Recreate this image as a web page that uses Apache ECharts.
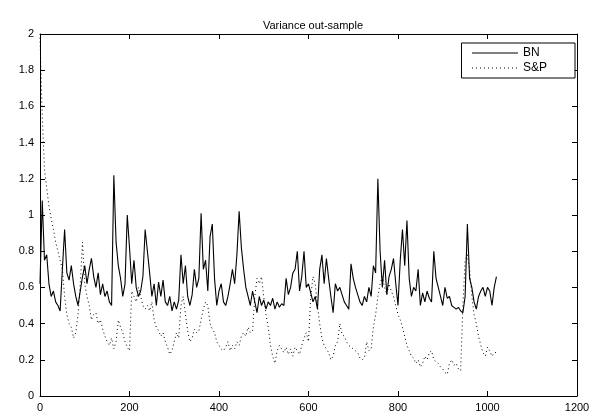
<!DOCTYPE html>
<html>
<head>
<meta charset="utf-8">
<script src="https://cdn.jsdelivr.net/npm/echarts@6/dist/echarts.min.js"></script>
<style>
html,body{margin:0;padding:0;background:#fff;}
#chart{width:594px;height:418px;}
</style>
</head>
<body>
<div id="chart"></div>
<script>
// Sample index step of the readings (values every 5 observations)
var sampleStep = 5;

var bnValues = [
0.62,1.08,0.75,0.78,0.62,0.55,0.58,0.52,0.50,0.47,
0.70,0.92,0.68,0.64,0.72,0.62,0.55,0.50,0.58,0.66,
0.72,0.62,0.70,0.76,0.66,0.60,0.68,0.56,0.62,0.55,
0.58,0.52,0.50,1.22,0.85,0.72,0.65,0.55,0.62,1.00,
0.82,0.62,0.75,0.60,0.55,0.58,0.66,0.92,0.80,0.68,
0.55,0.62,0.50,0.63,0.55,0.64,0.52,0.50,0.55,0.47,
0.52,0.48,0.53,0.78,0.62,0.72,0.55,0.50,0.56,0.70,
0.60,0.65,1.01,0.70,0.75,0.58,0.88,0.95,0.65,0.50,
0.58,0.62,0.52,0.50,0.55,0.62,0.70,0.62,0.78,1.02,
0.82,0.70,0.60,0.55,0.50,0.58,0.52,0.46,0.55,0.50,
0.53,0.48,0.52,0.50,0.54,0.48,0.52,0.49,0.51,0.50,
0.65,0.56,0.60,0.68,0.70,0.80,0.58,0.66,0.80,0.60,
0.62,0.57,0.52,0.55,0.48,0.70,0.78,0.62,0.76,0.65,
0.55,0.46,0.62,0.58,0.60,0.56,0.52,0.50,0.48,0.73,
0.65,0.60,0.56,0.52,0.50,0.55,0.52,0.60,0.55,0.72,
0.68,1.20,0.80,0.60,0.75,0.56,0.66,0.70,0.76,0.62,
0.50,0.75,0.92,0.72,0.97,0.65,0.55,0.60,0.58,0.70,
0.50,0.57,0.52,0.58,0.54,0.52,0.80,0.65,0.60,0.55,
0.50,0.60,0.54,0.55,0.50,0.49,0.48,0.49,0.47,0.46,
0.55,0.95,0.65,0.60,0.52,0.48,0.55,0.58,0.60,0.55,
0.60,0.58,0.50,0.60,0.66
];

var spValues = [
1.98,1.55,1.25,1.15,1.05,0.98,0.92,0.85,0.80,0.75,
0.70,0.55,0.45,0.40,0.38,0.32,0.35,0.45,0.62,0.85,
0.62,0.55,0.50,0.42,0.45,0.46,0.40,0.42,0.37,0.33,
0.30,0.28,0.32,0.26,0.30,0.42,0.38,0.35,0.30,0.27,
0.25,0.58,0.55,0.52,0.60,0.55,0.50,0.48,0.50,0.47,
0.52,0.42,0.38,0.36,0.33,0.35,0.30,0.27,0.23,0.25,
0.30,0.35,0.32,0.50,0.55,0.45,0.36,0.30,0.32,0.37,
0.35,0.36,0.42,0.48,0.52,0.50,0.40,0.37,0.35,0.30,
0.28,0.26,0.25,0.27,0.30,0.25,0.28,0.26,0.30,0.28,
0.33,0.35,0.33,0.38,0.35,0.36,0.55,0.65,0.62,0.66,
0.55,0.45,0.38,0.28,0.22,0.18,0.25,0.28,0.26,0.24,
0.27,0.23,0.26,0.22,0.27,0.25,0.23,0.28,0.32,0.35,
0.30,0.55,0.66,0.62,0.50,0.40,0.32,0.28,0.26,0.24,
0.20,0.22,0.28,0.30,0.40,0.34,0.33,0.30,0.28,0.27,
0.26,0.25,0.24,0.21,0.20,0.21,0.30,0.25,0.26,0.38,
0.45,0.55,0.62,0.66,0.60,0.56,0.62,0.58,0.55,0.50,
0.45,0.42,0.38,0.33,0.28,0.25,0.22,0.21,0.18,0.20,
0.16,0.18,0.22,0.20,0.24,0.25,0.20,0.19,0.18,0.16,
0.15,0.13,0.12,0.18,0.20,0.17,0.18,0.15,0.14,0.50,
0.75,0.78,0.70,0.55,0.45,0.40,0.33,0.28,0.24,0.22,
0.27,0.25,0.22,0.24,0.24
];

var seriesNames = ['BN', 'S&P'];
var titleText = 'Variance out-sample';
var xTicks = [0, 200, 400, 600, 800, 1000, 1200];
var yTicks = [0, 0.2, 0.4, 0.6, 0.8, 1, 1.2, 1.4, 1.6, 1.8, 2];

function pairs(vals) {
  return vals.map(function (v, i) { return [i * sampleStep, v]; });
}

var FONT = '"Liberation Sans", Arial, Helvetica, sans-serif';

function axisCommon(pos, isX, showLabel) {
  var ticks = isX ? xTicks : yTicks;
  return {
    type: 'value',
    position: pos,
    min: ticks[0],
    max: ticks[ticks.length - 1],
    interval: ticks[1] - ticks[0],
    axisLine: { show: true, onZero: false, lineStyle: { color: '#000', width: 1 } },
    axisTick: { show: true, inside: true, length: 5, lineStyle: { color: '#000', width: 1 } },
    axisLabel: {
      show: showLabel, color: '#000', fontSize: 11, fontFamily: FONT, margin: 6,
      formatter: function (v) { return String(Math.round(v * 100) / 100); }
    },
    splitLine: { show: false }
  };
}

var chart = echarts.init(document.getElementById('chart'), null, { renderer: 'canvas' });
chart.setOption({
  animation: false,
  backgroundColor: '#fff',
  title: {
    text: titleText,
    left: 308,
    top: 15,
    textAlign: 'center',
    textStyle: { color: '#000', fontSize: 11, fontWeight: 'normal', fontFamily: FONT }
  },
  grid: { left: 40, right: 17, top: 34, bottom: 22, containLabel: false },
  legend: {
    show: true,
    right: 19,
    top: 43,
    orient: 'vertical',
    backgroundColor: '#fff',
    borderColor: '#000',
    borderWidth: 1,
    borderRadius: 0,
    padding: [4, 28, 4, 10],
    itemGap: 3,
    itemWidth: 46,
    itemHeight: 14,
    itemStyle: { opacity: 0, borderWidth: 0 },
    lineStyle: { width: 1, type: 'inherit', color: '#000' },
    textStyle: { color: '#000', fontSize: 12, fontFamily: FONT },
    data: seriesNames
  },
  xAxis: [axisCommon('bottom', true, true), axisCommon('top', true, false)],
  yAxis: [axisCommon('left', false, true), axisCommon('right', false, false)],
  series: [
    {
      name: seriesNames[0],
      type: 'line',
      xAxisIndex: 0, yAxisIndex: 0,
      data: pairs(bnValues),
      symbol: 'none',
      lineStyle: { color: '#000', width: 1.1, type: 'solid' },
      itemStyle: { color: '#000' }
    },
    {
      name: seriesNames[1],
      type: 'line',
      xAxisIndex: 0, yAxisIndex: 0,
      data: pairs(spValues),
      symbol: 'none',
      lineStyle: { color: '#000', width: 1, type: [1, 3] },
      itemStyle: { color: '#000' }
    }
  ]
});
</script>
</body>
</html>
